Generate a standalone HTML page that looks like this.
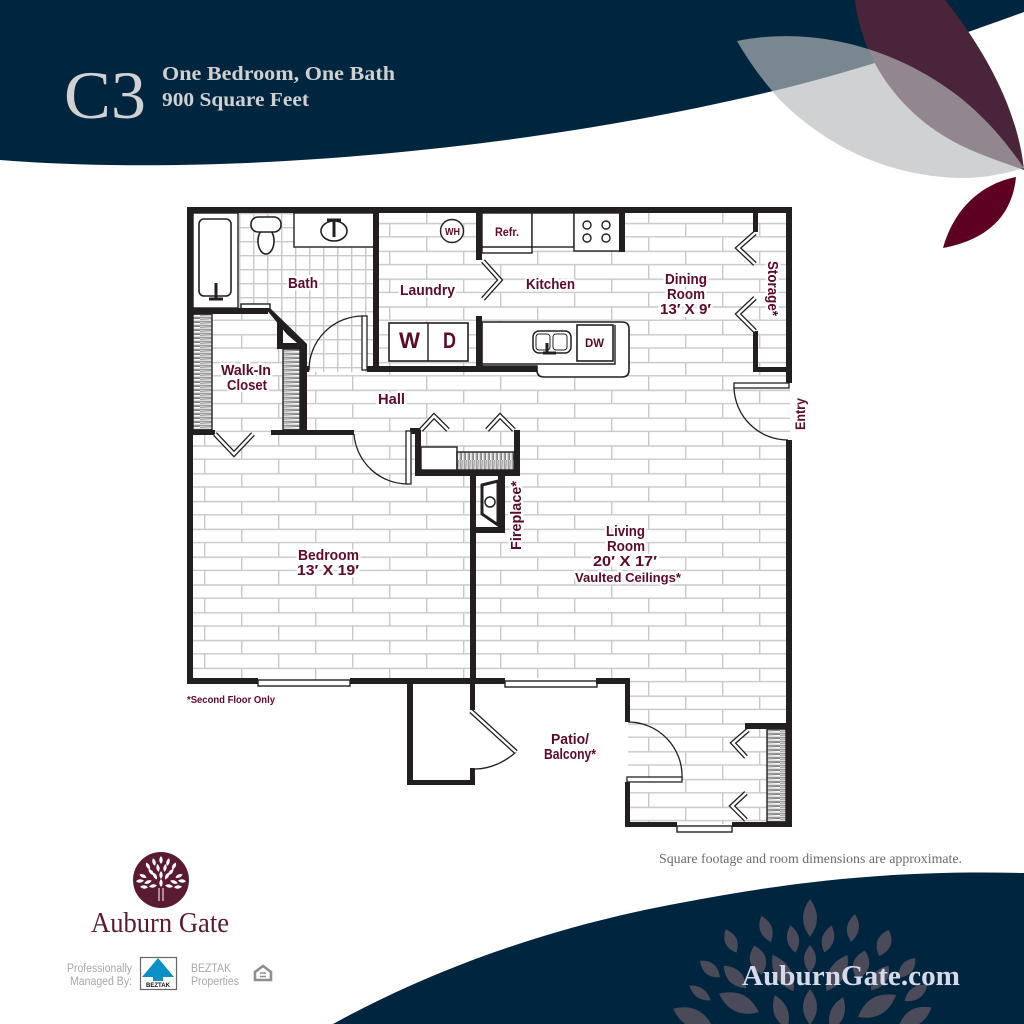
<!DOCTYPE html>
<html><head><meta charset="utf-8"><style>
html,body{margin:0;padding:0;background:#fff}
svg{display:block}
text{white-space:pre}
.l{font-family:"Liberation Sans",sans-serif;font-weight:bold;fill:#5b0a2a;font-size:14.5px;stroke:#fff;stroke-width:5px;paint-order:stroke;stroke-linejoin:round}
.s{font-family:"Liberation Serif",serif}
.g{font-family:"Liberation Sans",sans-serif;font-size:11.5px;fill:#a8a8a8}
</style></head><body>
<svg width="1024" height="1024" viewBox="0 0 1024 1024" xmlns="http://www.w3.org/2000/svg">
<defs>
<pattern id="b" patternUnits="userSpaceOnUse" x="648" y="209.7" width="74" height="27.8">
<rect width="74" height="27.8" fill="#fff"/>
<path d="M0 13.9H74M0 27.1H74M0.7 0V13.9M37.7 13.9V27.8" stroke="#c9c9c9" stroke-width="1.4" fill="none"/>
</pattern>
<pattern id="t" patternUnits="userSpaceOnUse" x="239" y="213" width="14" height="14">
<rect width="14" height="14" fill="#fff"/>
<path d="M0 .7H14M.7 0V14" stroke="#c9c9c9" stroke-width="1.4" fill="none"/>
</pattern>
<pattern id="sv" patternUnits="userSpaceOnUse" x="0" y="314" width="20" height="4">
<rect width="20" height="4" fill="#fff"/><path d="M0 1.2L20 .4M0 3.2H20" stroke="#777" stroke-width="1"/>
</pattern>
<pattern id="sh" patternUnits="userSpaceOnUse" x="457" y="0" width="4" height="20">
<rect width="4" height="20" fill="#fff"/><path d="M1.2 0L.4 20M3.2 0V20" stroke="#777" stroke-width="1"/>
</pattern>
</defs>

<!-- header -->
<path d="M0 0H1024V12C920 50 830 80 720 103C480 155 200 176 0 160Z" fill="#00263f"/>
<path d="M855 0C862 60 900 115 960 145C985 157 1005 163 1024 170C1018 110 985 50 945 0Z" fill="#4a2438"/>
<path d="M737 41C800 28 880 40 950 90C985 115 1008 145 1024 168C1010 172 990 178 960 178C880 176 820 140 780 100C762 80 748 60 737 41Z" fill="rgb(183,185,188)" fill-opacity=".66"/>
<path d="M1016 177C985 183 955 205 943 248C985 240 1012 218 1016 177Z" fill="#5d0022"/>
<text x="64" y="118" class="s" font-size="68" fill="#d0d1d2" textLength="82" lengthAdjust="spacingAndGlyphs">C3</text>
<text x="162" y="80" class="s" font-size="20" fill="#cfd0d2" textLength="233" lengthAdjust="spacingAndGlyphs" style="font-weight:bold">One Bedroom, One Bath</text>
<text x="162" y="106" class="s" font-size="20" fill="#cfd0d2" textLength="147" lengthAdjust="spacingAndGlyphs" style="font-weight:bold">900 Square Feet</text>

<!-- floors -->
<rect x="190" y="210" width="600" height="470" fill="url(#b)"/>
<rect x="628" y="678" width="160" height="146" fill="url(#b)"/>
<path d="M238 213H375V372H309L307 346L268 310H238Z" fill="url(#t)"/>
<rect x="408" y="678" width="220" height="150" fill="#fff"/>

<!-- fixtures -->
<g fill="#fff" stroke="#231f20" stroke-width="1.4">
<rect x="193" y="213" width="45" height="95"/>
<rect x="199" y="219" width="32" height="77" rx="5" stroke-width="1.6"/>
<rect x="294" y="213" width="80" height="34"/>
<ellipse cx="334" cy="231" rx="13" ry="10" stroke-width="1.6"/>
<ellipse cx="266" cy="241" rx="8" ry="13" stroke-width="1.6"/>
<rect x="251" y="217" width="30" height="15" rx="7" stroke-width="1.6"/>
<rect x="389" y="323" width="79" height="38" stroke-width="1.6"/>
<path d="M428 323V361"/>
<circle cx="452" cy="231" r="11.5"/>
<rect x="482" y="213" width="50" height="40"/>
<path d="M482 247H532"/>
<rect x="532" y="213" width="42" height="34"/>
<rect x="574" y="213" width="46" height="38"/>
<circle cx="587" cy="225" r="4"/><circle cx="606" cy="225" r="4"/><circle cx="587" cy="238" r="4"/><circle cx="606" cy="238" r="4"/>
<path d="M482 322H622Q629 322 629 329V370Q629 377 622 377H544Q537 377 537 370V366H482Z" stroke-width="1.6"/>
<path d="M482 364H615V325"/>
<rect x="577" y="325" width="36" height="36" stroke-width="1.6"/>
<rect x="533" y="331" width="38" height="22" rx="6" stroke-width="1.5"/>
<rect x="536" y="334" width="14" height="16" rx="3" stroke-width="1"/>
<rect x="553" y="334" width="14" height="16" rx="3" stroke-width="1"/>
<rect x="421" y="447" width="36" height="23"/>
<rect x="457" y="452" width="57" height="18" fill="url(#sh)"/>
<rect x="193" y="314" width="19" height="116" fill="url(#sv)"/>
<rect x="283" y="349" width="17" height="81" fill="url(#sv)"/>
<rect x="767" y="729" width="19" height="93" fill="url(#sv)"/>
<rect x="241" y="304" width="29" height="5"/>
<rect x="258" y="680" width="92" height="6"/>
<rect x="505" y="681" width="92" height="6"/>
<rect x="677" y="826" width="55" height="6"/>
</g>
<path d="M216 283V298M209 299H223M547 343V352M543 353H556M334 220V237M327 220H341" stroke="#231f20" stroke-width="3" fill="none"/>

<!-- walls -->
<g fill="#231f20">
<rect x="187" y="207" width="605" height="6"/>
<rect x="187" y="207" width="6" height="476"/>
<rect x="786" y="207" width="6" height="176"/>
<rect x="786" y="440" width="6" height="387"/>
<rect x="187" y="678" width="71" height="6"/><rect x="350" y="678" width="64" height="6"/>
<rect x="408" y="678" width="97" height="6"/><rect x="596" y="678" width="34" height="6"/>
<rect x="625" y="678" width="5" height="44"/><rect x="625" y="782" width="5" height="45"/>
<rect x="625" y="822" width="52" height="5"/><rect x="732" y="822" width="60" height="5"/>
<rect x="745" y="723" width="45" height="6"/>
<rect x="407" y="678" width="6" height="107"/><rect x="407" y="780" width="68" height="5"/>
<rect x="470" y="680" width="5" height="30"/><rect x="470" y="768" width="5" height="17"/>
<rect x="470" y="475" width="6" height="205"/>
<rect x="470" y="527" width="35" height="6"/><rect x="498" y="473" width="7" height="60"/>
<rect x="415" y="428" width="6" height="48"/><rect x="410" y="428" width="10" height="6"/>
<rect x="415" y="470" width="105" height="6"/><rect x="514" y="430" width="6" height="45"/>
<rect x="193" y="308" width="75" height="6"/>
<polygon points="265,308 270,308 307,344 307,350 300,350"/>
<rect x="300" y="346" width="7" height="84"/>
<rect x="277" y="322" width="6" height="27"/><rect x="277" y="343" width="28" height="6"/>
<rect x="193" y="430" width="22" height="5"/><rect x="271" y="430" width="83" height="5"/>
<rect x="373" y="213" width="6" height="159"/>
<rect x="367" y="366" width="170" height="6"/>
<rect x="476" y="213" width="6" height="47"/><rect x="476" y="316" width="6" height="54"/>
<rect x="619" y="213" width="6" height="39"/>
<rect x="753" y="213" width="5" height="19"/><rect x="753" y="331" width="5" height="41"/>
<rect x="753" y="367" width="37" height="5"/>
<rect x="304" y="366" width="5" height="6"/>
</g>
<path d="M283 331L297 343H283Z" fill="#fff"/>
<!-- fireplace -->
<path d="M482 485L498 481V525L482 514Z" fill="#fff" stroke="#231f20" stroke-width="3"/>
<circle cx="490" cy="502" r="5" fill="#fff" stroke="#231f20" stroke-width="1.5"/>

<!-- doors -->
<g fill="none" stroke="#231f20" stroke-width="1.3">
<path d="M309 370A54 54 0 0 1 363 316"/>
<path d="M354 434A54 54 0 0 0 408 484"/>
<path d="M734 388A54 54 0 0 0 788 440"/>
<path d="M628 722A54 54 0 0 1 682 778"/>
<path d="M475 769C490 769 505 762 516 752"/>
</g>
<g fill="#fff" stroke="#231f20" stroke-width="1.3">
<rect x="362" y="316" width="5" height="54"/>
<rect x="406" y="431" width="5" height="53"/>
<rect x="734" y="383" width="55" height="5"/>
<rect x="627" y="777" width="55" height="5"/>
</g>
<!-- folding doors -->
<g fill="none" stroke-linejoin="miter">
<path d="M483 261L500 280L483 299M215 434L234 454L253 434M755 233L738 248L755 264M755 298L738 314L755 331M421 430L434 416L448 430M487 430L500 416L514 430M748 730L733 743L746 757M746 793L732 806L746 820M471 711L516 752" stroke="#231f20" stroke-width="5"/>
<path d="M483 261L500 280L483 299M215 434L234 454L253 434M755 233L738 248L755 264M755 298L738 314L755 331M421 430L434 416L448 430M487 430L500 416L514 430M748 730L733 743L746 757M746 793L732 806L746 820M471 711L516 752" stroke="#fff" stroke-width="2.4"/>
</g>

<!-- labels -->
<text class="l" x="288" y="288" textLength="30" lengthAdjust="spacingAndGlyphs">Bath</text>
<text class="l" x="400" y="295" textLength="55" lengthAdjust="spacingAndGlyphs">Laundry</text>
<text class="l" x="526" y="289" textLength="49" lengthAdjust="spacingAndGlyphs">Kitchen</text>
<text class="l" x="665" y="284" textLength="42" lengthAdjust="spacingAndGlyphs">Dining</text>
<text class="l" x="667" y="299" textLength="38" lengthAdjust="spacingAndGlyphs">Room</text>
<text class="l" x="660" y="314" textLength="51" lengthAdjust="spacingAndGlyphs">13′ X 9′</text>
<text class="l" transform="translate(768 261) rotate(90)" textLength="55" lengthAdjust="spacingAndGlyphs">Storage*</text>
<text class="l" transform="translate(805 430) rotate(-90)" textLength="32" lengthAdjust="spacingAndGlyphs" style="font-size:13.5px">Entry</text>
<text class="l" transform="translate(521 550) rotate(-90)" textLength="69" lengthAdjust="spacingAndGlyphs">Fireplace*</text>
<text class="l" x="221" y="375" textLength="50" lengthAdjust="spacingAndGlyphs">Walk-In</text>
<text class="l" x="227" y="390" textLength="40" lengthAdjust="spacingAndGlyphs">Closet</text>
<text class="l" x="378" y="404" textLength="27" lengthAdjust="spacingAndGlyphs">Hall</text>
<text class="l" x="298" y="560" textLength="61" lengthAdjust="spacingAndGlyphs">Bedroom</text>
<text class="l" x="297" y="575" textLength="62" lengthAdjust="spacingAndGlyphs">13′ X 19′</text>
<text class="l" x="606" y="536" textLength="39" lengthAdjust="spacingAndGlyphs">Living</text>
<text class="l" x="607" y="551" textLength="38" lengthAdjust="spacingAndGlyphs">Room</text>
<text class="l" x="593" y="566" textLength="64" lengthAdjust="spacingAndGlyphs">20′ X 17′</text>
<text class="l" x="575" y="582" textLength="106" lengthAdjust="spacingAndGlyphs" style="font-size:13px">Vaulted Ceilings*</text>
<text class="l" x="551" y="744" textLength="38" lengthAdjust="spacingAndGlyphs">Patio/</text>
<text class="l" x="544" y="759" textLength="52" lengthAdjust="spacingAndGlyphs">Balcony*</text>
<text class="l" x="187" y="703" textLength="88" lengthAdjust="spacingAndGlyphs" style="font-size:10px;stroke-width:0">*Second Floor Only</text>
<text class="l" x="399" y="348" textLength="21" lengthAdjust="spacingAndGlyphs" style="font-size:22px;stroke-width:0">W</text>
<text class="l" x="443" y="348" textLength="13" lengthAdjust="spacingAndGlyphs" style="font-size:22px;stroke-width:0">D</text>
<text class="l" x="445" y="235" textLength="15" lengthAdjust="spacingAndGlyphs" style="font-size:10.5px;stroke-width:0">WH</text>
<text class="l" x="495" y="236" textLength="24" lengthAdjust="spacingAndGlyphs" style="font-size:12px;stroke-width:0">Refr.</text>
<text class="l" x="585" y="347" textLength="19" lengthAdjust="spacingAndGlyphs" style="font-size:12px;stroke-width:0">DW</text>

<text x="659" y="863" class="s" font-size="14" fill="#6a6a6a" textLength="303" lengthAdjust="spacingAndGlyphs">Square footage and room dimensions are approximate.</text>

<!-- footer -->
<path d="M333 1024C440 965 560 925 680 903C800 880 900 870 1024 873V1024Z" fill="#00263f"/>
<g fill="#4a4a58">
<path d="M0 -19Q14 0 0 19Q-14 0 0 -19Z" transform="translate(810 918)"/>
<path d="M0 -14Q12 0 0 14Q-12 0 0 -14Z" transform="translate(766 929) rotate(-20)"/>
<path d="M0 -14Q12 0 0 14Q-12 0 0 -14Z" transform="translate(793 939) rotate(-10)"/>
<path d="M0 -14Q12 0 0 14Q-12 0 0 -14Z" transform="translate(828 939) rotate(15)"/>
<path d="M0 -14Q12 0 0 14Q-12 0 0 -14Z" transform="translate(853 928) rotate(8)"/>
<path d="M0 -14Q14 0 0 14Q-14 0 0 -14Z" transform="translate(884 943) rotate(20)"/>
<path d="M0 -13Q12 0 0 13Q-12 0 0 -13Z" transform="translate(731 941) rotate(-25)"/>
<path d="M0 -15Q16 0 0 15Q-16 0 0 -15Z" transform="translate(758 960) rotate(-15)"/>
<path d="M0 -14Q12 0 0 14Q-12 0 0 -14Z" transform="translate(810 959)"/>
<path d="M0 -21Q16 0 0 21Q-16 0 0 -21Z" transform="translate(783 973) rotate(-30)"/>
<path d="M0 -21Q16 0 0 21Q-16 0 0 -21Z" transform="translate(837 973) rotate(30)"/>
<path d="M0 -15Q16 0 0 15Q-16 0 0 -15Z" transform="translate(861 965) rotate(15)"/>
<path d="M0 -15Q14 0 0 15Q-14 0 0 -15Z" transform="translate(880 978) rotate(35)"/>
<path d="M0 -13Q12 0 0 13Q-12 0 0 -13Z" transform="translate(907 968) rotate(40)"/>
<path d="M0 -13Q12 0 0 13Q-12 0 0 -13Z" transform="translate(710 969) rotate(-50)"/>
<path d="M0 -16Q14 0 0 16Q-14 0 0 -16Z" transform="translate(735 977) rotate(-45)"/>
<path d="M0 -13Q10 0 0 13Q-10 0 0 -13Z" transform="translate(700 993) rotate(-55)"/>
<path d="M0 -22Q18 0 0 22Q-18 0 0 -22Z" transform="translate(739 1003) rotate(-65)"/>
<path d="M0 -18Q14 0 0 18Q-14 0 0 -18Z" transform="translate(810 1007)"/>
<path d="M0 -18Q14 0 0 18Q-14 0 0 -18Z" transform="translate(781 1012) rotate(-20)"/>
<path d="M0 -18Q14 0 0 18Q-14 0 0 -18Z" transform="translate(837 1014) rotate(20)"/>
<path d="M0 -22Q18 0 0 22Q-18 0 0 -22Z" transform="translate(877 1006) rotate(60)"/>
<path d="M0 -14Q12 0 0 14Q-12 0 0 -14Z" transform="translate(916 993) rotate(55)"/>
<path d="M0 -19Q16 0 0 19Q-16 0 0 -19Z" transform="translate(915 1017) rotate(60)"/>
<path d="M0 -22Q18 0 0 22Q-18 0 0 -22Z" transform="translate(693 1018) rotate(-65)"/>
</g>
<text x="742" y="985" class="s" font-size="28" fill="#d5d9e8" textLength="218" lengthAdjust="spacingAndGlyphs" style="font-weight:bold">AuburnGate.com</text>

<!-- logo -->
<circle cx="161" cy="880" r="28" fill="#5b1a33"/>
<g fill="#fff">
<path d="M0 -4Q3.4 0 0 4Q-3.4 0 0 -4Z" transform="translate(161 860)"/>
<path d="M0 -4Q3.4 0 0 4Q-3.4 0 0 -4Z" transform="translate(154 862) rotate(-15)"/>
<path d="M0 -4Q3.4 0 0 4Q-3.4 0 0 -4Z" transform="translate(168 862) rotate(15)"/>
<path d="M0 -4Q3.4 0 0 4Q-3.4 0 0 -4Z" transform="translate(148 866) rotate(-30)"/>
<path d="M0 -4Q3.4 0 0 4Q-3.4 0 0 -4Z" transform="translate(174 866) rotate(30)"/>
<path d="M0 -4Q3.4 0 0 4Q-3.4 0 0 -4Z" transform="translate(158 868) rotate(-10)"/>
<path d="M0 -4Q3.4 0 0 4Q-3.4 0 0 -4Z" transform="translate(165 868) rotate(10)"/>
<path d="M0 -4Q3.4 0 0 4Q-3.4 0 0 -4Z" transform="translate(151 872) rotate(-40)"/>
<path d="M0 -4Q3.4 0 0 4Q-3.4 0 0 -4Z" transform="translate(171 872) rotate(40)"/>
<path d="M0 -4Q3.4 0 0 4Q-3.4 0 0 -4Z" transform="translate(161 875)"/>
<path d="M0 -4Q3.4 0 0 4Q-3.4 0 0 -4Z" transform="translate(155 876) rotate(-30)"/>
<path d="M0 -4Q3.4 0 0 4Q-3.4 0 0 -4Z" transform="translate(167 876) rotate(30)"/>
<path d="M0 -4Q3.4 0 0 4Q-3.4 0 0 -4Z" transform="translate(143 876) rotate(-65)"/>
<path d="M0 -4Q3.4 0 0 4Q-3.4 0 0 -4Z" transform="translate(179 876) rotate(65)"/>
<path d="M0 -4Q3.4 0 0 4Q-3.4 0 0 -4Z" transform="translate(140 881) rotate(85)"/>
<path d="M0 -4Q3.4 0 0 4Q-3.4 0 0 -4Z" transform="translate(182 881) rotate(95)"/>
<path d="M0 -4Q3.4 0 0 4Q-3.4 0 0 -4Z" transform="translate(148 882) rotate(70)"/>
<path d="M0 -4Q3.4 0 0 4Q-3.4 0 0 -4Z" transform="translate(174 882) rotate(110)"/>
<path d="M0 -4Q3.4 0 0 4Q-3.4 0 0 -4Z" transform="translate(153 886) rotate(80)"/>
<path d="M0 -4Q3.4 0 0 4Q-3.4 0 0 -4Z" transform="translate(169 886) rotate(100)"/>
<path d="M0 -4Q3.4 0 0 4Q-3.4 0 0 -4Z" transform="translate(144 887) rotate(95)"/>
<path d="M0 -4Q3.4 0 0 4Q-3.4 0 0 -4Z" transform="translate(178 887) rotate(85)"/>
<path d="M0 -4Q3.4 0 0 4Q-3.4 0 0 -4Z" transform="translate(161 883)"/>
<rect x="158.5" y="888" width="1" height="13"/><rect x="162.5" y="888" width="1" height="13"/>
</g>
<text x="91" y="932" class="s" font-size="29" fill="#5b1a33" textLength="138" lengthAdjust="spacingAndGlyphs">Auburn Gate</text>

<text x="67" y="972" class="g" textLength="65" lengthAdjust="spacingAndGlyphs">Professionally</text>
<text x="70" y="985" class="g" textLength="62" lengthAdjust="spacingAndGlyphs">Managed By:</text>
<rect x="140.5" y="957.5" width="36" height="32" fill="#fff" stroke="#666" stroke-width="1.2"/>
<path d="M158 958L174 977H163V981H153V977H142Z" fill="#0a8fc6"/>
<text x="146" y="987" font-family="Liberation Sans" font-weight="bold" font-size="6" fill="#111" textLength="24" lengthAdjust="spacingAndGlyphs">BEZTAK</text>
<text x="191" y="972" class="g" textLength="40" lengthAdjust="spacingAndGlyphs">BEZTAK</text>
<text x="191" y="985" class="g" textLength="48" lengthAdjust="spacingAndGlyphs">Properties</text>
<path d="M255 972L263 966L271 972V980H255Z" fill="none" stroke="#8f8f8f" stroke-width="2.6"/>
<path d="M260 973H266M260 976.5H266" stroke="#8f8f8f" stroke-width="1.6"/>
</svg>
</body></html>
